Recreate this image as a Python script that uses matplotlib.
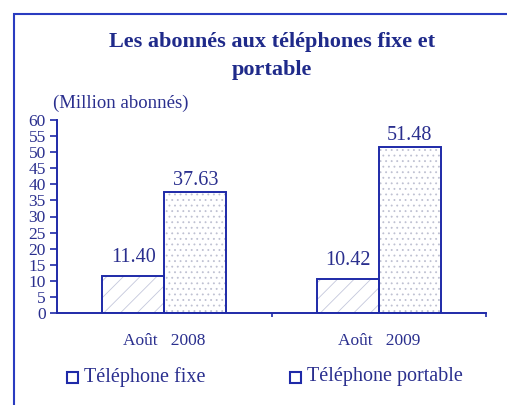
import matplotlib.pyplot as plt
from matplotlib.patches import Rectangle
import numpy as np

plt.rcParams['font.family'] = ['Liberation Serif', 'DejaVu Serif']
plt.rcParams['hatch.linewidth'] = 0.6

# data
periods = ["Août   2008", "Août   2009"]
fixe = [11.40, 10.42]
portable = [37.63, 51.48]
series_names = ["Téléphone fixe", "Téléphone portable"]

blue = "#1f2aa8"
txt = "#2a2f8e"

fig = plt.figure(figsize=(5.07, 4.05), dpi=100)
ax = fig.add_axes([57/507, 1-313/405, (486-57)/507, (313-120)/405])

centers = np.array([0.5, 1.5])
w = 0.29
# hatch fills
ax.bar(centers - w/2, fixe, w, facecolor="white", edgecolor="#c4c7dc", hatch="//", linewidth=0.1, zorder=2)
ax.bar(centers + w/2, portable, w, facecolor="white", edgecolor="#bfc1d2", hatch="...", linewidth=0.1, zorder=2)
# outlines
ax.bar(centers - w/2, fixe, w, facecolor="none", edgecolor=blue, linewidth=1.4, zorder=4)
ax.bar(centers + w/2, portable, w, facecolor="none", edgecolor=blue, linewidth=1.4, zorder=4)

for c, v in zip(centers - w/2, fixe):
    ax.text(c, v + 3, f"{v:.2f}", ha="center", va="bottom", fontsize=14.5, color=txt)
for c, v in zip(centers + w/2, portable):
    ax.text(c, v + 0.6, f"{v:.2f}", ha="center", va="bottom", fontsize=14.5, color=txt)

ax.set_xlim(0, 2)
ax.set_ylim(0, 60)
ax.set_yticks(range(0, 61, 5))
ax.set_xticks([1, 2])
ax.set_xticklabels([])
ax.tick_params(axis="y", direction="out", length=5, width=1.2, colors=blue, labelcolor=txt, labelsize=12.5, pad=3)
ax.tick_params(axis="x", direction="out", length=3, width=1.2, colors=blue)
for s in ["top", "right"]:
    ax.spines[s].set_visible(False)
for s in ["left", "bottom"]:
    ax.spines[s].set_color(blue)
    ax.spines[s].set_linewidth(1.4)

for c, lab in zip(centers, periods):
    ax.text(c, -6.3, lab, ha="center", va="top", fontsize=12.5, color=txt)

fig.text(272/507, 1-42/405, "Les abonnés aux téléphones fixe et", ha="center", va="center",
         fontsize=16, fontweight="bold", color="#1f2a8a")
fig.text(272/507, 1-70/405, "portable", ha="center", va="center",
         fontsize=16, fontweight="bold", color="#1f2a8a")
fig.text(53/507, 1-103/405, "(Million abonnés)", ha="left", va="center", fontsize=13.5, color=txt)

# legend
for xpos, name in zip([67, 290], series_names):
    fig.patches.append(Rectangle((xpos/507, 1-383/405), 11/507, 11/405, transform=fig.transFigure,
                                 fill=False, edgecolor=blue, linewidth=1.5))
    fig.text((xpos + 17)/507, 1-377/405, name, ha="left", va="center", fontsize=14.5, color=txt)

# outer frame
fig.patches.append(Rectangle((14/507, -0.1), 1.2, 1.1 - 14/405, transform=fig.transFigure,
                             fill=False, edgecolor="#2a3cc0", linewidth=1.5))

fig.savefig("out.png", dpi=100)
